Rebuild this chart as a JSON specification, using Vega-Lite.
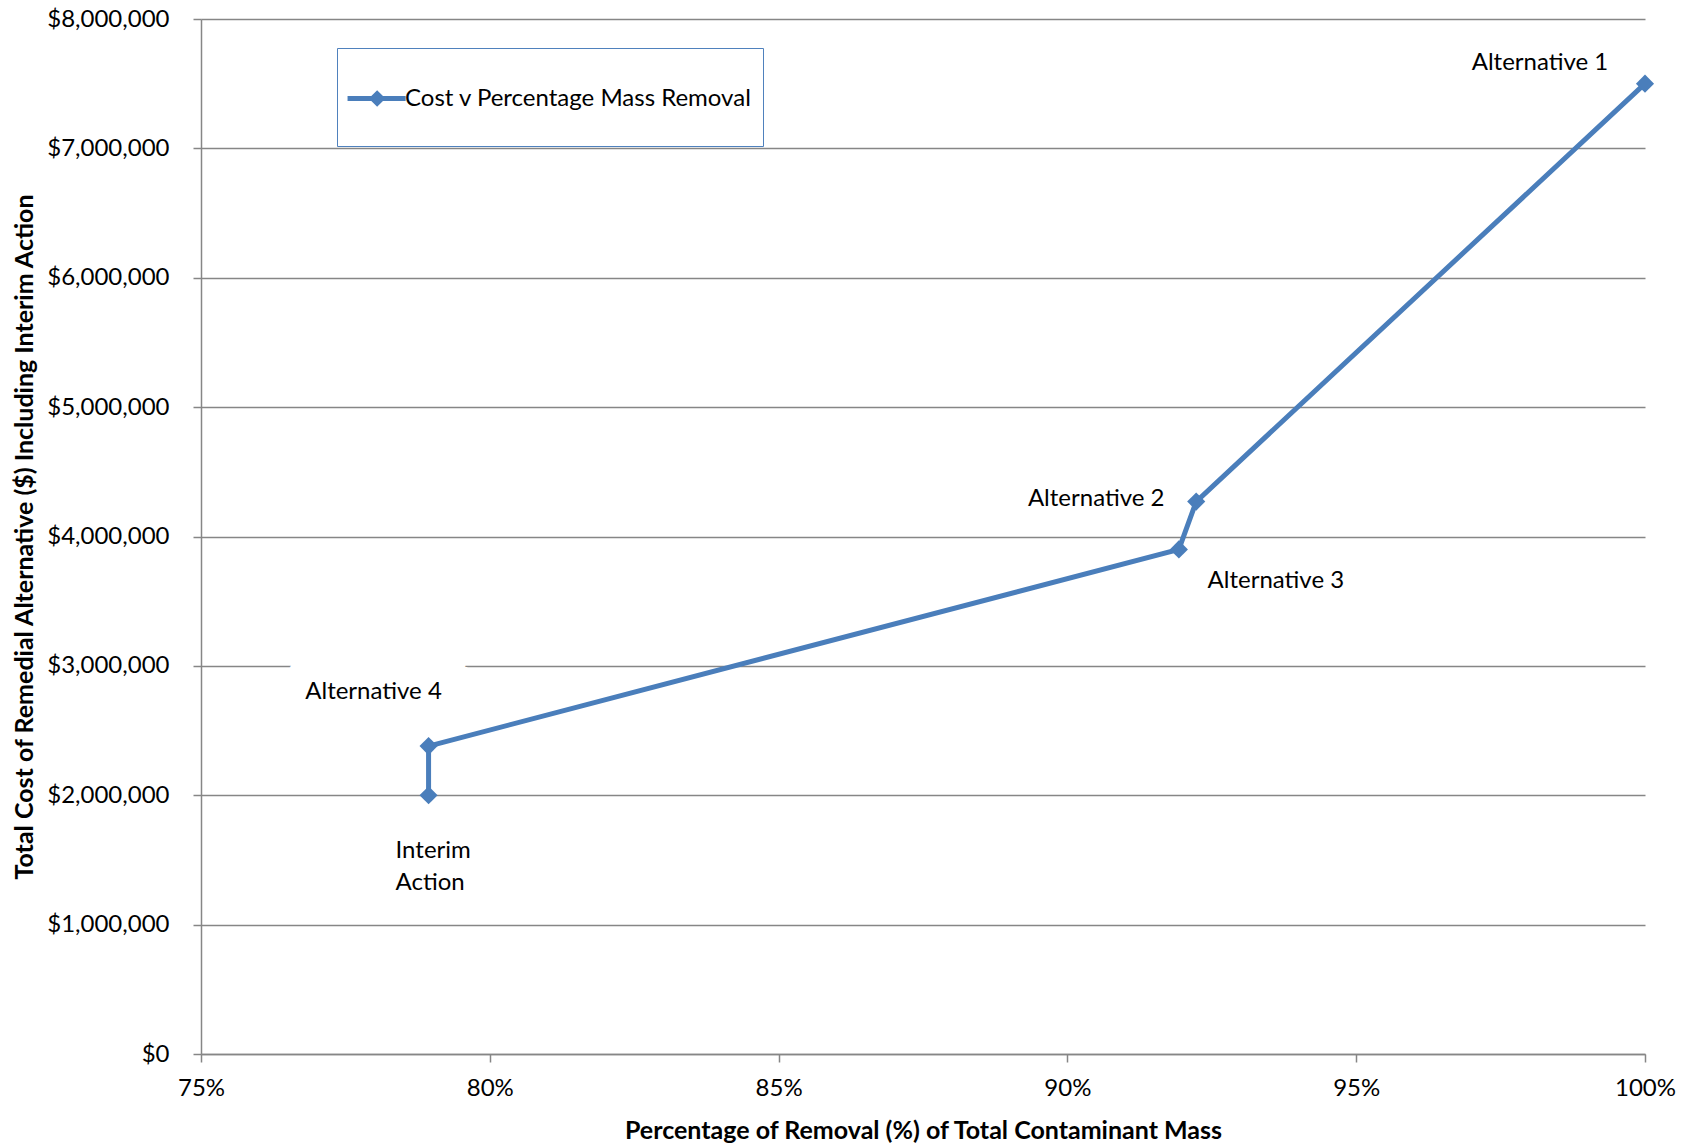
{
  "$schema": "https://vega.github.io/schema/vega-lite/v6.json",
  "width": 1444,
  "height": 1035,
  "autosize": "none",
  "padding": {"left": 201, "top": 19, "right": 38, "bottom": 92},
  "background": "white",
  "config": {
    "font": "Lato",
    "view": {"stroke": null},
    "axis": {"labelFont": "Lato", "titleFont": "Lato", "labelColor": "#000000", "titleColor": "#000000"}
  },
  "data": {
    "values": [
      {"label": "Interim\nAction", "removal": 0.7894, "cost": 2000000, "order": 1, "series": "Cost v Percentage Mass Removal"},
      {"label": "Alternative 4", "removal": 0.7894, "cost": 2380000, "order": 2, "series": "Cost v Percentage Mass Removal"},
      {"label": "Alternative 3", "removal": 0.9193, "cost": 3900000, "order": 3, "series": "Cost v Percentage Mass Removal"},
      {"label": "Alternative 2", "removal": 0.9223, "cost": 4270000, "order": 4, "series": "Cost v Percentage Mass Removal"},
      {"label": "Alternative 1", "removal": 1.0, "cost": 7500000, "order": 5, "series": "Cost v Percentage Mass Removal"}
    ]
  },
  "encoding": {
    "x": {
      "field": "removal", "type": "quantitative",
      "scale": {"domain": [0.75, 1.0], "nice": false, "zero": false},
      "axis": {
        "title": "Percentage of Removal (%) of Total Contaminant Mass",
        "format": ".0%", "values": [0.75, 0.8, 0.85, 0.9, 0.95, 1.0],
        "grid": false, "domainColor": "#868686", "domainWidth": 1.5,
        "tickColor": "#868686", "tickWidth": 1.5, "tickSize": 8,
        "labelFontSize": 24, "labelPadding": 14, "labelFlush": false,
        "titleFontSize": 25, "titleFontWeight": "bold", "titlePadding": 18
      }
    },
    "y": {
      "field": "cost", "type": "quantitative",
      "scale": {"domain": [0, 8000000], "nice": false},
      "axis": {
        "title": "Total Cost of Remedial Alternative ($) Including Interim Action",
        "format": "$,.0f", "values": [0, 1000000, 2000000, 3000000, 4000000, 5000000, 6000000, 7000000, 8000000],
        "grid": true, "gridColor": "#868686", "gridWidth": 1.5,
        "domainColor": "#868686", "domainWidth": 1.5,
        "tickColor": "#868686", "tickWidth": 1.5, "tickSize": 8,
        "labelFontSize": 24, "labelPadding": 24,
        "titleFontSize": 25, "titleFontWeight": "bold", "titlePadding": 9
      }
    }
  },
  "layer": [
    {
      "transform": [{"filter": "datum.label == 'Alternative 4'"}],
      "mark": {"type": "text", "fontSize": 24, "font": "Lato", "color": "white", "stroke": "white", "strokeWidth": 52, "strokeJoin": "miter", "align": "center", "baseline": "middle", "dx": -55, "dy": -54},
      "encoding": {"text": {"field": "label"}}
    },
    {
      "mark": {"type": "line", "strokeWidth": 5, "clip": false},
      "encoding": {
        "order": {"field": "order", "type": "quantitative"},
        "color": {
          "field": "series", "type": "nominal",
          "scale": {"range": ["#4A7EBB"]},
          "legend": {
            "title": null, "orient": "none", "legendX": 136, "legendY": 29,
            "padding": 11, "strokeColor": "#4F81BD", "fillColor": "white",
            "labelFontSize": 24, "labelFont": "Lato", "labelColor": "#000000", "labelOffset": -22, "labelLimit": 600,
            "symbolType": "M-1.08,0L0.49,0M-0.28,-0.13L-0.15,0L-0.28,0.13L-0.41,0ZM0,0.7",
            "symbolSize": 5476,
            "encode": {
              "symbols": {
                "update": {
                  "shape": {"value": "M-1.08,0L0.49,0M-0.28,-0.13L-0.15,0L-0.28,0.13L-0.41,0ZM0,0.7"},
                  "size": {"value": 5476},
                  "fill": {"value": "#4A7EBB"},
                  "stroke": {"value": "#4A7EBB"},
                  "strokeWidth": {"value": 5},
                  "opacity": {"value": 1}
                }
              }
            }
          }
        }
      }
    },
    {
      "mark": {"type": "point", "shape": "diamond", "filled": true, "size": 330, "color": "#4A7EBB", "opacity": 1, "clip": false}
    },
    {
      "transform": [{"filter": "datum.label == 'Alternative 1'"}],
      "mark": {"type": "text", "fontSize": 24, "font": "Lato", "color": "#000000", "align": "center", "baseline": "middle", "dx": -105, "dy": -21},
      "encoding": {"text": {"field": "label"}}
    },
    {
      "transform": [{"filter": "datum.label == 'Alternative 2'"}],
      "mark": {"type": "text", "fontSize": 24, "font": "Lato", "color": "#000000", "align": "center", "baseline": "middle", "dx": -100, "dy": -3},
      "encoding": {"text": {"field": "label"}}
    },
    {
      "transform": [{"filter": "datum.label == 'Alternative 3'"}],
      "mark": {"type": "text", "fontSize": 24, "font": "Lato", "color": "#000000", "align": "center", "baseline": "middle", "dx": 97, "dy": 32},
      "encoding": {"text": {"field": "label"}}
    },
    {
      "transform": [{"filter": "datum.label == 'Alternative 4'"}],
      "mark": {"type": "text", "fontSize": 24, "font": "Lato", "color": "#000000", "align": "center", "baseline": "middle", "dx": -55, "dy": -54},
      "encoding": {"text": {"field": "label"}}
    },
    {
      "transform": [{"filter": "datum.order == 1"}],
      "mark": {"type": "text", "fontSize": 24, "font": "Lato", "color": "#000000", "align": "left", "baseline": "middle", "dx": -33, "dy": 56, "lineBreak": "\n", "lineHeight": 32},
      "encoding": {"text": {"field": "label"}}
    }
  ]
}
